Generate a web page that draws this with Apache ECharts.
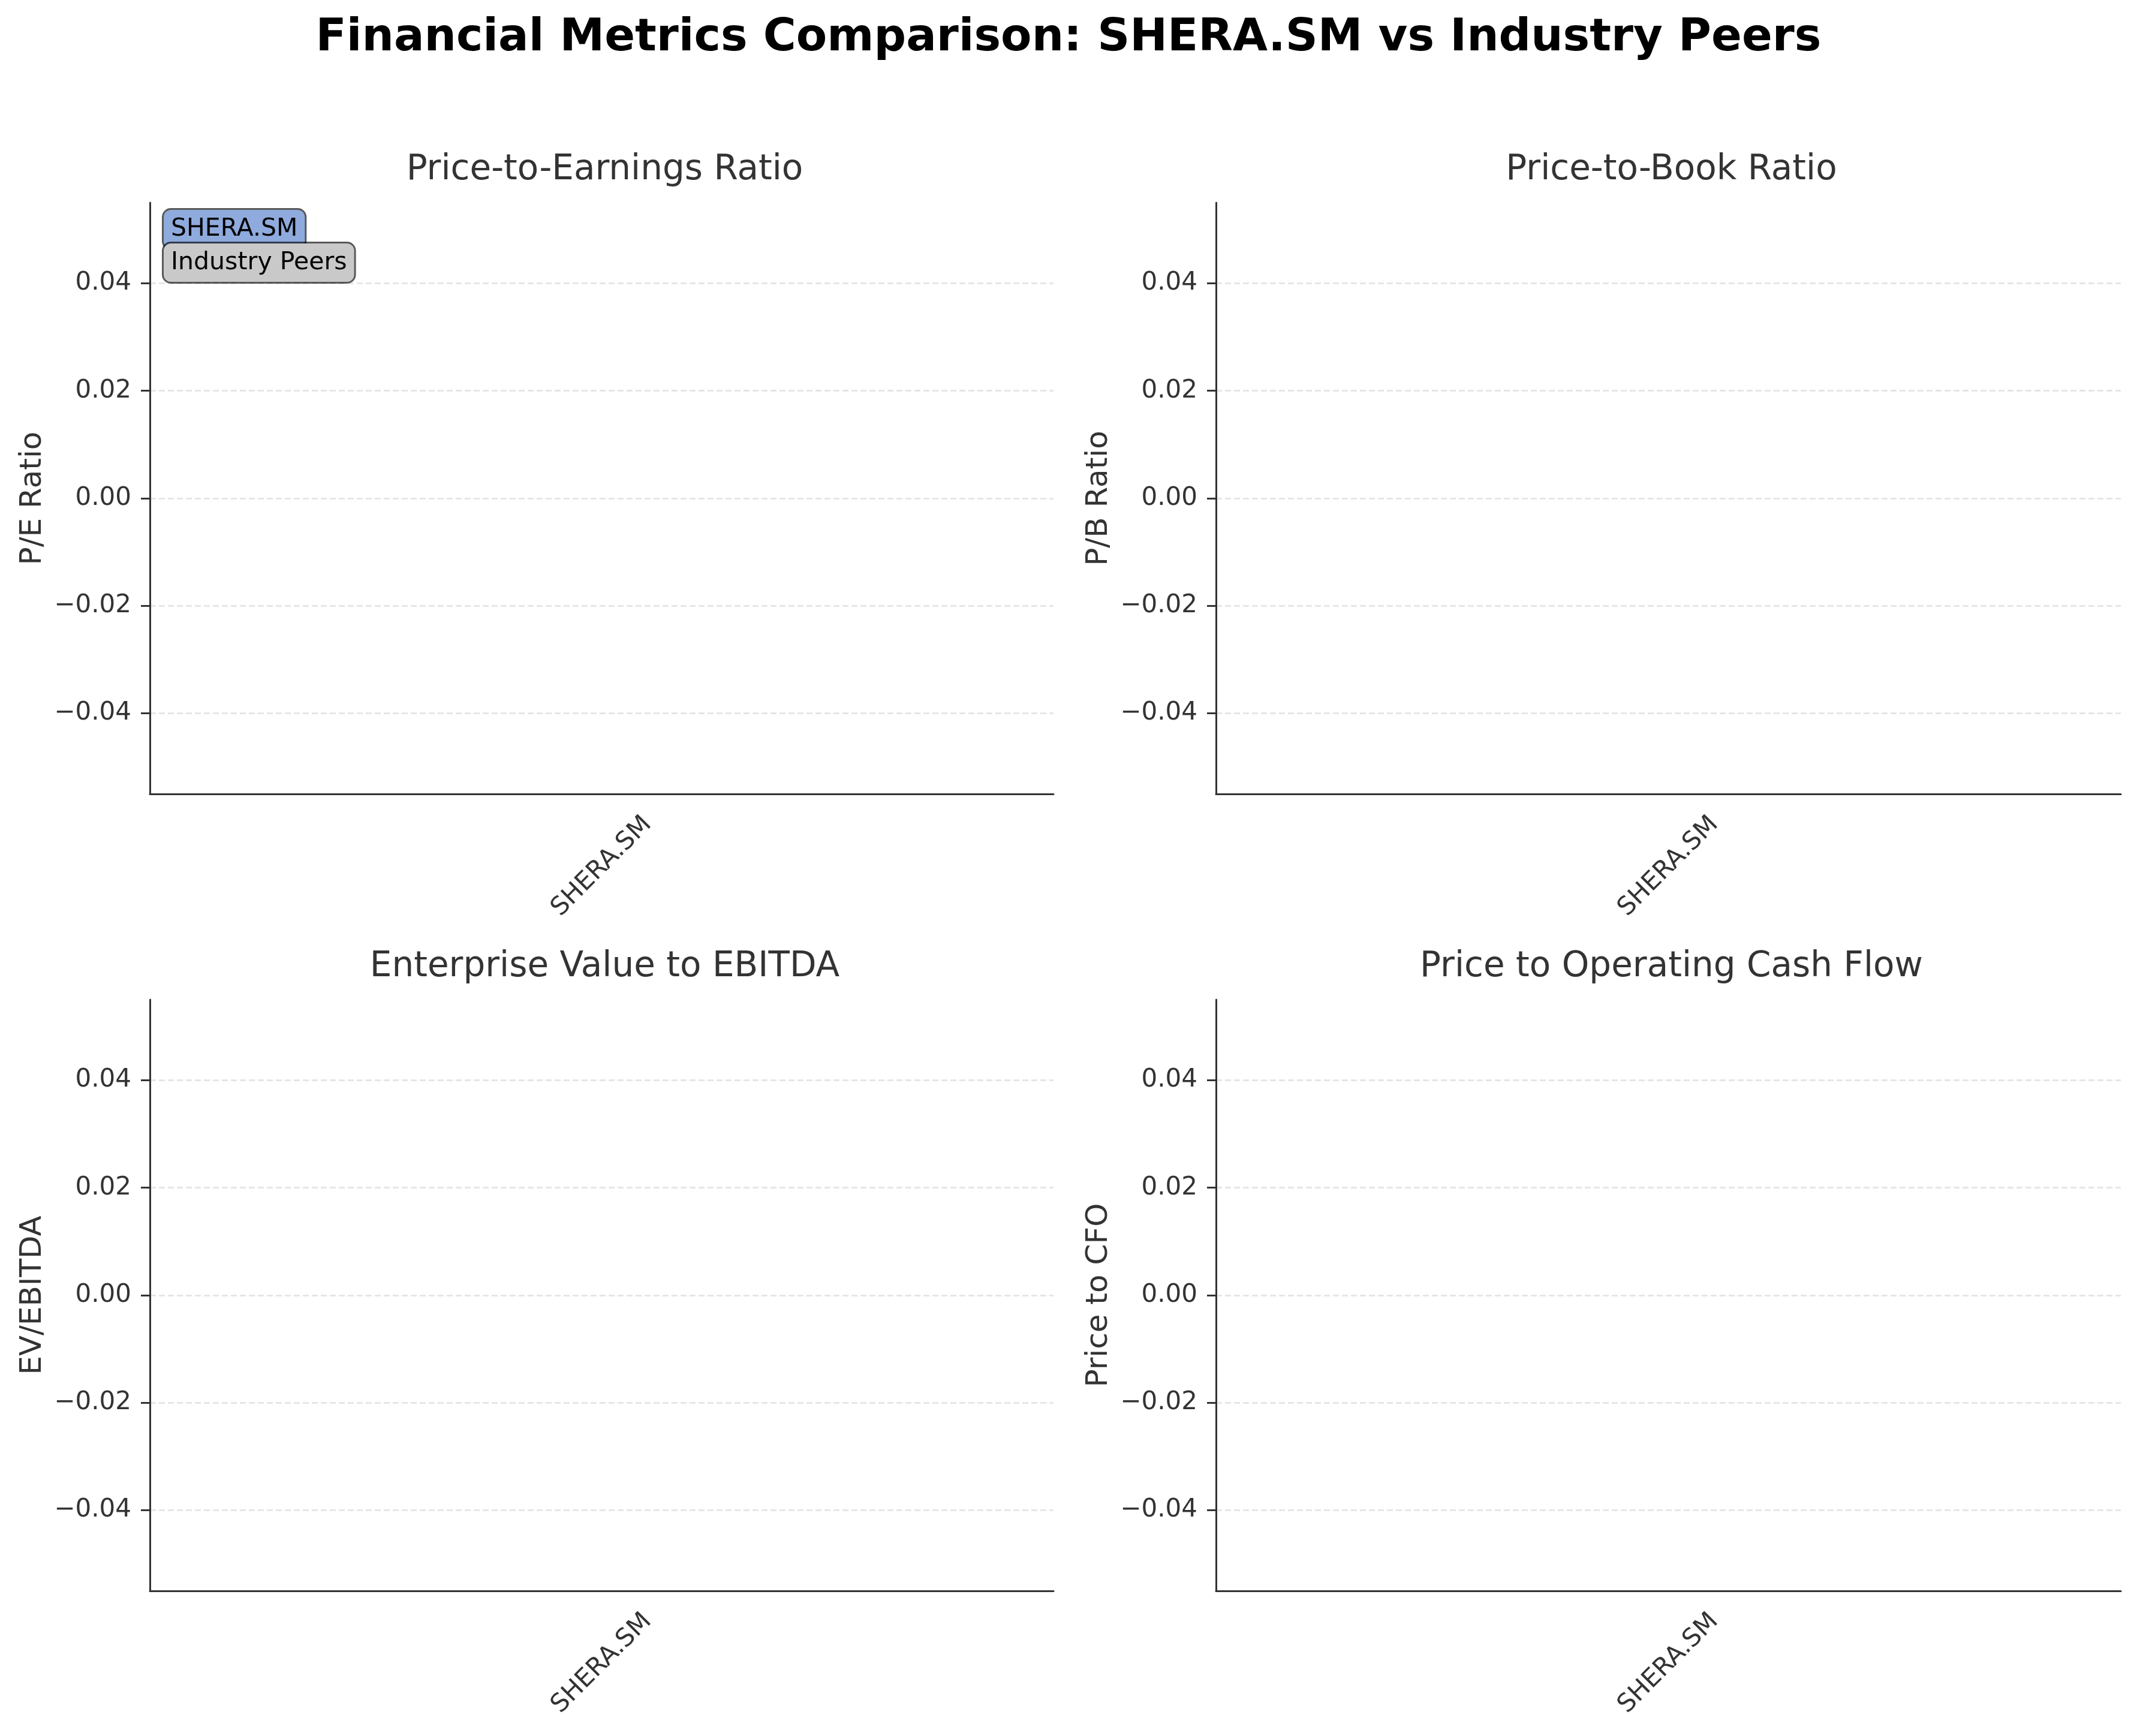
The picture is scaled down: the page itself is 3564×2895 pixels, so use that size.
<!DOCTYPE html>
<html>
<head>
<meta charset="utf-8">
<script src="https://cdn.jsdelivr.net/npm/echarts@6/dist/echarts.min.js"></script>
<style>
  html, body { margin: 0; padding: 0; background: #fff; }
  #chart { width: 3564px; height: 2895px; }
</style>
</head>
<body>
<div id="chart"></div>
<script>
// data (the source chart has no values drawn: every metric is empty)
const categories = ['SHERA.SM'];
const metricTitles = ['Price-to-Earnings Ratio', 'Price-to-Book Ratio', 'Enterprise Value to EBITDA', 'Price to Operating Cash Flow'];
const yLabels = ['P/E Ratio', 'P/B Ratio', 'EV/EBITDA', 'Price to CFO'];
const sheraValues = [null, null, null, null];
const peerValues = [null, null, null, null];
const seriesNames = ['SHERA.SM', 'Industry Peers'];
const yTicks = [-0.04, -0.02, 0.00, 0.02, 0.04];
const yMin = -0.055;
const yMax = 0.055;

const FONT = 'DejaVu Sans';
const panels = [
  {left: 250, top: 338, width: 1507, height: 986},
  {left: 2028, top: 338, width: 1509, height: 986},
  {left: 250, top: 1667, width: 1507, height: 986},
  {left: 2028, top: 1667, width: 1509, height: 986}
];

function fmt(v) {
  const s = Math.abs(v).toFixed(2);
  return v < 0 ? '\u2212' + s : s;
}

const grids = [], xAxes = [], yAxes = [], series = [];
const titles = [{
  text: 'Financial Metrics Comparison: SHERA.SM vs Industry Peers',
  left: 'center', top: 22,
  textStyle: {fontFamily: FONT, fontSize: 75, fontWeight: 'bold', color: '#000'}
}];

panels.forEach((p, i) => {
  grids.push({left: p.left, top: p.top, width: p.width, height: p.height, containLabel: false});
  titles.push({
    text: metricTitles[i],
    left: p.left + p.width / 2, top: p.top - 88, textAlign: 'center',
    textStyle: {fontFamily: FONT, fontSize: 58, fontWeight: 'normal', color: '#333'}
  });
  xAxes.push({
    type: 'category', gridIndex: i, data: categories,
    axisLine: {onZero: false, lineStyle: {color: '#333', width: 3}},
    axisTick: {alignWithLabel: true, length: 15, lineStyle: {color: '#333', width: 3}},
    axisLabel: {
      rotate: 45, align: 'center', verticalAlign: 'middle', margin: 121,
      fontFamily: FONT, fontSize: 42, color: '#333'
    },
    splitLine: {show: false}
  });
  yAxes.push({
    type: 'value', gridIndex: i, min: yMin, max: yMax,
    name: yLabels[i], nameLocation: 'middle', nameGap: 170,
    nameTextStyle: {fontFamily: FONT, fontSize: 50, color: '#333'},
    axisLine: {show: true, onZero: false, lineStyle: {color: '#333', width: 3}},
    axisTick: {show: true, customValues: yTicks, length: 15, lineStyle: {color: '#333', width: 3}},
    axisLabel: {
      customValues: yTicks, margin: 31, formatter: fmt,
      fontFamily: FONT, fontSize: 42, color: '#333'
    },
    splitLine: {show: true, lineStyle: {color: '#e6e6e6', width: 3, type: [10, 5]}}
  });
  series.push({
    name: seriesNames[0], type: 'bar', xAxisIndex: i, yAxisIndex: i,
    data: [sheraValues[i]], itemStyle: {color: '#4472C4'}
  });
  series.push({
    name: seriesNames[1], type: 'bar', xAxisIndex: i, yAxisIndex: i,
    data: [peerValues[i]], itemStyle: {color: '#A5A5A5'}
  });
});

const boxText = (bg) => ({
  fontFamily: FONT, fontSize: 41, color: '#000',
  backgroundColor: bg, borderColor: 'rgba(0,0,0,0.65)', borderWidth: 3,
  borderRadius: 12, padding: [10, 12], lineHeight: 44
});

const chart = echarts.init(document.getElementById('chart'), null, {renderer: 'canvas'});
chart.setOption({
  backgroundColor: '#fff',
  animation: false,
  title: titles,
  legend: {
    orient: 'vertical', left: 263, top: 342,
    icon: 'none', itemWidth: 0, itemHeight: 10, itemGap: -14,
    selectedMode: false,
    data: [
      {name: seriesNames[0], textStyle: boxText('#8FAADC')},
      {name: seriesNames[1], textStyle: boxText('#C9C9C9')}
    ]
  },
  grid: grids,
  xAxis: xAxes,
  yAxis: yAxes,
  series: series
});
</script>
</body>
</html>
